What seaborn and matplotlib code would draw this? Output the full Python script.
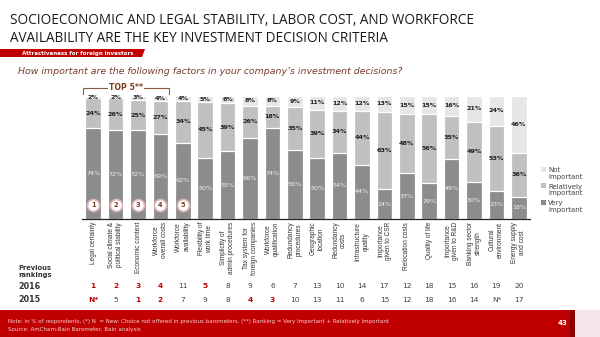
import matplotlib
matplotlib.use("Agg")
import matplotlib.pyplot as plt
import matplotlib.transforms as mtrans
from matplotlib.patches import Rectangle, Polygon
import seaborn as sns
import pandas as pd

categories = ["Legal certainty", "Social climate &\npolitical stability", "Economic context",
              "Workforce\noverall costs", "Workforce\navailability", "Flexibility of\nwork time",
              "Simplicity of\nadmin procedures", "Tax system for\nforeign companies",
              "Workforce\nqualification", "Redundancy\nprocedures", "Geographic\nlocation",
              "Redundancy\ncosts", "Infrastructure\nquality", "Importance\ngiven to CSR",
              "Relocation costs", "Quality of life", "Importance\ngiven to R&D",
              "Banking sector\nstrength", "Cultural\nenvironment", "Energy supply\nand cost"]
very = [74, 72, 72, 69, 62, 50, 55, 66, 74, 56, 50, 54, 44, 24, 37, 29, 49, 30, 23, 18]
relatively = [24, 26, 25, 27, 34, 45, 39, 26, 18, 35, 39, 34, 44, 63, 48, 56, 35, 49, 53, 36]
not_imp = [2, 2, 3, 4, 4, 5, 6, 8, 8, 9, 11, 12, 12, 13, 15, 15, 16, 21, 24, 46]
rank_2016 = ["1", "2", "3", "4", "11", "5", "8", "9", "6", "7", "13", "10", "14", "17", "12", "18", "15", "16", "19", "20"]
rank_2015 = ["N*", "5", "1", "2", "7", "9", "8", "4", "3", "10", "13", "11", "6", "15", "12", "18", "16", "14", "N*", "17"]
hl_2016 = [0, 1, 2, 3, 5]
hl_2015 = [0, 2, 3, 7, 8]
top5 = [1, 2, 3, 4, 5]
legend_labels = ["Not\nimportant", "Relatively\nimportant", "Very\nimportant"]

C_NOT, C_REL, C_VERY = "#e6e6e6", "#c0c0c0", "#8c8c8c"
RED = "#c00000"

sns.set_theme(style="white")
plt.rcParams["font.family"] = ["DejaVu Sans"]

W, H = 600, 337
fig = plt.figure(figsize=(6, 3.37), dpi=100)
fig.patch.set_facecolor("white")
ax = fig.add_axes([82 / W, 1 - 219 / H, 448 / W, 123 / H])

df = pd.DataFrame({"cat": categories, "very": very, "rel": relatively, "not": not_imp})
df["vr"] = df["very"] + df["rel"]
df["all"] = df["vr"] + df["not"]

for col, c in [("all", C_NOT), ("vr", C_REL), ("very", C_VERY)]:
    sns.barplot(data=df, x="cat", y=col, color=c, width=0.7, ax=ax,
                edgecolor="white", linewidth=0.9, saturation=1)

for i, (v, r, n) in enumerate(zip(very, relatively, not_imp)):
    ax.text(i, v / 2, f"{v}%", ha="center", va="center", fontsize=4.6, color="#f2f2f2")
    ax.text(i, v + r / 2, f"{r}%", ha="center", va="center", fontsize=4.6, color="#222222", fontweight="bold")
    ax.text(i, v + r + n / 2, f"{n}%", ha="center", va="center", fontsize=4.6, color="#222222", fontweight="bold")

ax.set_xlim(-0.5, len(categories) - 0.5)
ax.set_ylim(0, 100)
ax.set_xlabel("")
ax.set_ylabel("")
ax.set_yticks([])
for s in ["top", "right", "left"]:
    ax.spines[s].set_visible(False)
ax.spines["bottom"].set_color("#222222")
ax.spines["bottom"].set_linewidth(0.9)
ax.tick_params(axis="x", length=0, pad=2)
ax.set_xticks(range(len(categories)))
ax.set_xticklabels(categories, rotation=90, fontsize=4.7, color="#333333",
                   family="Liberation Sans", va="top", ha="center")

# ranking badges
bx = list(range(len(top5)))
ax.scatter(bx, [11.5] * len(top5), s=75, facecolor="white", edgecolor="#e0b4b4",
           linewidth=1.2, zorder=5, clip_on=False)
for i, k in enumerate(top5):
    ax.text(i, 11.5, str(k), ha="center", va="center", fontsize=4.8, color="#7a3b1e",
            fontweight="bold", zorder=6)

bt = mtrans.blended_transform_factory(ax.transData, fig.transFigure)
for i, (a, b) in enumerate(zip(rank_2016, rank_2015)):
    ax.text(i, 1 - 286 / H, a, transform=bt, ha="center", va="center", fontsize=5.4,
            color=RED if i in hl_2016 else "#444444",
            fontweight="bold" if i in hl_2016 else "normal")
    ax.text(i, 1 - 300 / H, b, transform=bt, ha="center", va="center", fontsize=5.4,
            color=RED if i in hl_2015 else "#444444",
            fontweight="bold" if i in hl_2015 else "normal")

fig.text(18 / W, 1 - 271.5 / H, "Previous\nrankings", fontsize=4.9, fontweight="bold",
         color="#333333", va="center", ha="left", linespacing=1.05)
fig.text(18 / W, 1 - 286.5 / H, "2016", fontsize=5.8, fontweight="bold", color="#333333", va="center")
fig.text(18 / W, 1 - 300 / H, "2015", fontsize=5.8, fontweight="bold", color="#333333", va="center")

# legend
for j, (lab, c) in enumerate(zip(legend_labels, [C_NOT, C_REL, C_VERY])):
    y0 = 169 + j * 16.5
    fig.patches.append(Rectangle((541 / W, 1 - (y0 + 2.5) / H), 5 / W, 5 / H,
                                 transform=fig.transFigure, facecolor=c, edgecolor="none"))
    fig.text(548 / W, 1 - (y0 - 2) / H, lab, fontsize=5.0, color="#444444",
             va="top", ha="left", linespacing=1.15)

# title
fig.text(10 / W, 1 - 20 / H, "SOCIOECONOMIC AND LEGAL STABILITY, LABOR COST, AND WORKFORCE",
         fontsize=9.75, color="#1a1a1a", va="center", ha="left", family="Open Sans")
fig.text(10 / W, 1 - 38 / H, "AVAILABILITY ARE THE KEY INVESTMENT DECISION CRITERIA",
         fontsize=9.75, color="#1a1a1a", va="center", ha="left", family="Open Sans")

# red banner
fig.patches.append(Polygon([(0, 1 - 49 / H), (145 / W, 1 - 49 / H), (142 / W, 1 - 57 / H), (0, 1 - 57 / H)],
                           closed=True, transform=fig.transFigure, facecolor=RED, edgecolor="none"))
fig.text(22 / W, 1 - 53 / H, "Attractiveness for foreign investors", fontsize=3.95,
         fontweight="bold", color="white", va="center", ha="left")

# subtitle
fig.text(18 / W, 1 - 72 / H, "How important are the following factors in your company\u2019s investment decisions?",
         fontsize=6.75, style="italic", color="#7a3b2e", va="center", ha="left")

# TOP 5 bracket
bc = "#8b5a3c"
fig.lines.append(plt.Line2D([83 / W, 83 / W, 169 / W, 169 / W],
                            [1 - 94 / H, 1 - 88 / H, 1 - 88 / H, 1 - 94 / H],
                            transform=fig.transFigure, color=bc, linewidth=0.8))
fig.text(126 / W, 1 - 87.5 / H, "TOP 5**", fontsize=5.6, fontweight="bold", color="#7a3b1e",
         va="center", ha="center", bbox=dict(facecolor="white", edgecolor="none", pad=0.8))

# footer
fig.patches.append(Rectangle((0, 0), 570 / W, 27 / H, transform=fig.transFigure,
                             facecolor=RED, edgecolor="none"))
fig.patches.append(Rectangle((570 / W, 0), 5 / W, 27 / H, transform=fig.transFigure,
                             facecolor="#8a0000", edgecolor="none"))
fig.patches.append(Rectangle((575 / W, 0), 25 / W, 27 / H, transform=fig.transFigure,
                             facecolor="#f4e6ea", edgecolor="none"))
fig.text(8 / W, 1 - 322 / H,
         "Note: in % of respondents, (*) N  = New: Choice not offered in previous barometers, (**) Ranking = Very Important + Relatively Important",
         fontsize=4.0, color="#f5d0d0", va="center", ha="left")
fig.text(8 / W, 1 - 329 / H, "Source: AmCham-Bain Barometer, Bain analysis",
         fontsize=4.0, color="#f5d0d0", va="center", ha="left")
fig.text(563 / W, 1 - 323 / H, "43", fontsize=5, fontweight="bold", color="white",
         va="center", ha="center")

fig.savefig("out.png", dpi=100)
